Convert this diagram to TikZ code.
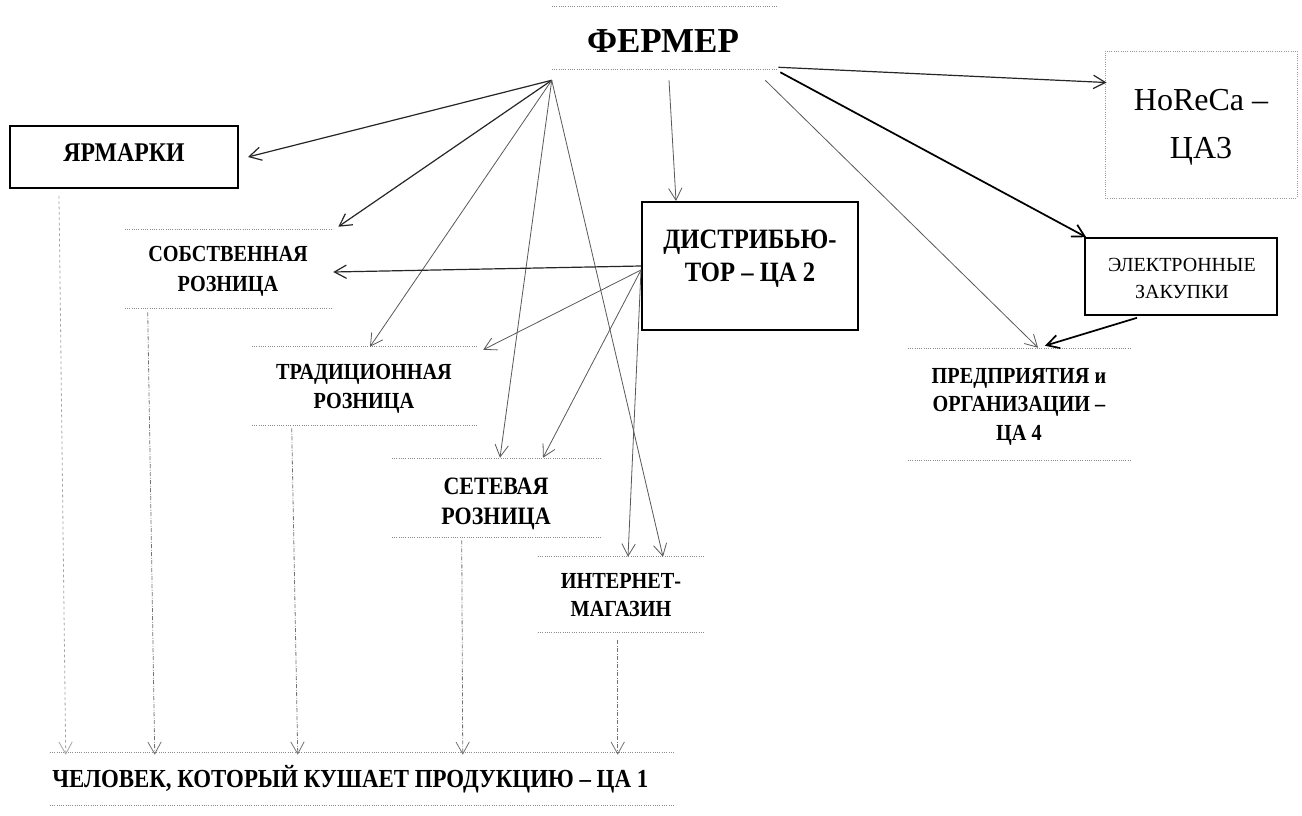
\documentclass[tikz,border=0pt]{standalone}
\usepackage{fontspec}
\setmainfont{Liberation Serif}
\usetikzlibrary{arrows.meta}
\newcommand\cz[1]{\scalebox{0.88}[1]{\begin{tabular}{@{}c@{}}#1\end{tabular}}}
\tikzset{
  lbl/.style={inner sep=0pt, align=center},
  frame/.style={inner sep=0pt, draw=none},
  solidbox/.style={draw=black, line width=1.5pt},
  dotline/.style={draw=black!45, densely dotted, line width=0.7pt},
  tipv/.style={-{Straight Barb[length=9pt,width=10pt]}},
  con/.style={tipv, draw=black!65, line width=0.6pt},
  condark/.style={tipv, draw=black!85, line width=0.9pt},
  conthick/.style={tipv, draw=black, line width=1.3pt},
  vcon/.style={tipv, draw=black!55, line width=0.6pt, dash pattern=on 3pt off 1.2pt on 0.6pt off 1.2pt},
  vconfaint/.style={tipv, draw=black!35, line width=0.6pt, dash pattern=on 2pt off 2pt}
}
\begin{document}
\begin{tikzpicture}[x=0.75pt,y=-0.75pt]
\useasboundingbox[fill=white] (0,0) rectangle (1302,816);

% ---- frames ----
\node[frame, minimum width=169.5pt, minimum height=46.5pt] (fermer) at (665,38) {};
\node[lbl, font=\fontsize{26.25}{30}\selectfont\bfseries] (fermert) at (663,41) {ФЕРМЕР};

\node[frame, solidbox, minimum width=171pt, minimum height=46.5pt] (jar) at (124,157) {};
\node[lbl, font=\fontsize{20.25}{24}\selectfont\bfseries] (jart) at (124,155) {\cz{ЯРМАРКИ}};

\node[frame, minimum width=156pt, minimum height=58.5pt] (sob) at (229,269) {};
\node[lbl, font=\fontsize{17.25}{22.5}\selectfont\bfseries] (sobt) at (228,271) {\cz{СОБСТВЕННАЯ\\РОЗНИЦА}};

\node[frame, minimum width=169.5pt, minimum height=58.5pt] (trad) at (365,386) {};
\node[lbl, font=\fontsize{17.25}{21.75}\selectfont\bfseries] (tradt) at (364,388) {\cz{ТРАДИЦИОННАЯ\\РОЗНИЦА}};

\node[frame, minimum width=157.5pt, minimum height=58.5pt] (set) at (497,498) {};
\node[lbl, font=\fontsize{18.75}{22.5}\selectfont\bfseries] (sett) at (496,503) {\cz{СЕТЕВАЯ\\РОЗНИЦА}};

\node[frame, minimum width=125.25pt, minimum height=56.25pt] (inet) at (621.5,594.5) {};
\node[lbl, font=\fontsize{17.25}{21}\selectfont\bfseries] (inett) at (621,597) {\cz{ИНТЕРНЕТ-\\МАГАЗИН}};

\node[frame, solidbox, minimum width=162pt, minimum height=96pt] (dist) at (750,266) {};
\node[lbl, font=\fontsize{21}{24.75}\selectfont\bfseries] (distt) at (750,258) {\cz{ДИСТРИБЬЮ-\\ТОР – ЦА 2}};

\node[frame, draw=black!40, densely dotted, line width=0.7pt, minimum width=144pt, minimum height=110.25pt] (horeca) at (1201,124.5) {};
\node[lbl, font=\fontsize{24}{36}\selectfont] (horecat) at (1201,127) {HoReCa –\\ЦА3};

\node[frame, draw=black, line width=1.2pt, minimum width=144pt, minimum height=57.75pt] (el) at (1181,276.5) {};
\node[lbl, font=\fontsize{15}{20.25}\selectfont] (elt) at (1182,278) {ЭЛЕКТРОННЫЕ\\ЗАКУПКИ};

\node[frame, minimum width=166.5pt, minimum height=83.25pt] (pred) at (1019,404.5) {};
\node[lbl, font=\fontsize{17.25}{21.4}\selectfont\bfseries] (predt) at (1019,406) {\cz{ПРЕДПРИЯТИЯ и\\ОРГАНИЗАЦИИ –\\ЦА 4}};

\node[frame, minimum width=467.25pt, minimum height=39pt] (chel) at (361.5,779) {};
\node[lbl, font=\fontsize{19.5}{22}\selectfont\bfseries, anchor=west] (chelt) at (52,781) {\cz{ЧЕЛОВЕК, КОТОРЫЙ КУШАЕТ ПРОДУКЦИЮ – ЦА 1}};

% ---- dotted top/bottom rules ----
\foreach \n in {fermer,sob,trad,set,inet,pred,chel}{
  \draw[dotline] (\n.north west) -- (\n.north east);
  \draw[dotline] (\n.south west) -- (\n.south east);
}

% ---- named end points ----
\coordinate (fan) at ([shift={(0,11)}]fermer.south west);
\coordinate (fdist) at ([shift={(4,11)}]fermer.south);
\coordinate (fr1) at ([shift={(0,-2)}]fermer.south east);
\coordinate (fr2) at ([shift={(2,3)}]fermer.south east);
\coordinate (fr3) at ([shift={(-13,11)}]fermer.south east);
\coordinate (dw) at ([shift={(0,4)}]dist.west);

% ---- from ФЕРМЕР (left fan) ----
\draw[condark] (fan) -- ([shift={(9,0)}]jar.east);
\draw[condark] (fan) -- ([shift={(5,-3)}]sob.north east);
\draw[con] (fan) -- ([shift={(5,0)}]trad.north);
\draw[con] (fan) -- ([shift={(3,-1)}]set.north);
\draw[con] (fan) -- ([shift={(41.5,0)}]inet.north);
\draw[con] (fdist) -- ([shift={(35,0)}]dist.north west);

% ---- from ФЕРМЕР (right) ----
\draw[condark] (fr1) -- ([shift={(2,32)}]horeca.north west);
\draw[conthick] (fr2) -- ([shift={(2,0)}]el.north west);
\draw[con] (fr3) -- ([shift={(19,-1)}]pred.north);
\draw[conthick] ([shift={(-44,2)}]el.south) -- ([shift={(26,-3)}]pred.north);

% ---- from ДИСТРИБЬЮТОР ----
\draw[condark] (dist.west) -- ([shift={(0,3)}]sob.east);
\draw[con] (dw) -- ([shift={(5,3)}]trad.north east);
\draw[con] (dw) -- ([shift={(46,-1)}]set.north);
\draw[con] (dw) -- ([shift={(6.5,0)}]inet.north);

% ---- down to ЧЕЛОВЕК ----
\draw[vconfaint] ([shift={(50,7)}]jar.south west) -- ([shift={(16,2)}]chel.north west);
\draw[vcon] ([shift={(23,4)}]sob.south west) -- ([shift={(105,2)}]chel.north west);
\draw[vcon] ([shift={(40,3)}]trad.south west) -- ([shift={(248,2)}]chel.north west);
\draw[vcon] ([shift={(70,3)}]set.south west) -- ([shift={(413,2)}]chel.north west);
\draw[vcon] ([shift={(80,8)}]inet.south west) -- ([shift={(568,2)}]chel.north west);
\end{tikzpicture}
\end{document}
